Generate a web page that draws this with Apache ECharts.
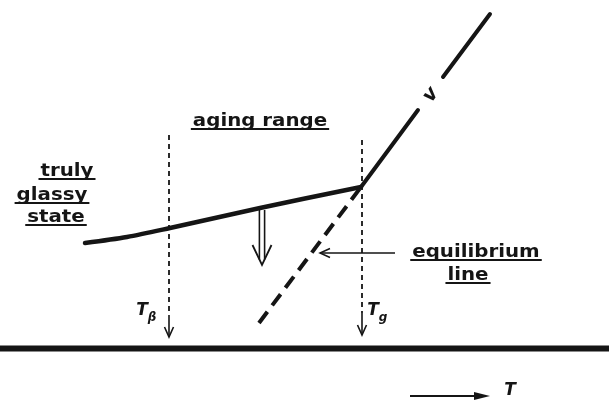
<!DOCTYPE html>
<html>
<head>
<meta charset="utf-8">
<script src="https://cdn.jsdelivr.net/npm/echarts@6/dist/echarts.min.js"></script>
<style>
  html, body { margin: 0; background: #fff; }
  #chart { width: 609px; height: 403px; }
</style>
</head>
<body>
<div id="chart"></div>
<script>
// v(T) schematic: arbitrary units, T to the right, v upwards
const glassyCurve = [[85, 160], [127, 166], [170, 175], [260, 195], [361, 216]];
const liquidLow = [[361, 216], [418, 293]];
const liquidHigh = [[443, 326], [490, 389]];
const equilibriumLine = [[259, 80], [361, 216]];
const floorLine = [[0, 54.5], [609, 54.5]];

const tBeta = 169;
const tGlass = 362;
const tempArrows = [[tBeta, 268, tBeta, 66], [tGlass, 263, tGlass, 68]];
const agingArrow = [[262, 193, 262, 138]];
const pointerArrow = [[395, 150, 320, 150]];
const tAxisArrow = [[410, 7, 490, 7]];

const words = ["aging range", "truly", "glassy", "state", "equilibrium", "line"];
const wordAt = [[260, 282], [67, 232], [52, 208], [56, 186], [476, 151], [468, 128]];
const symbols = [["T", "β"], ["T", "g"], ["T", ""]];
const symbolAt = [[142, 92], [373, 92], [510, 12]];
const curveLabel = ["v"];
const curveLabelAt = [[431, 308]];

const INK = "#151515";
const WORD_FONT = "bold 18px 'DejaVu Sans'";
const WORD_SX = 1.1;

const measureCtx = document.createElement("canvas").getContext("2d");
measureCtx.font = WORD_FONT;

function ends(api) {
  return [
    api.coord([api.value(0), api.value(1)]),
    api.coord([api.value(2), api.value(3)]),
  ];
}

function unit(p1, p2) {
  const dx = p2[0] - p1[0], dy = p2[1] - p1[1];
  const l = Math.hypot(dx, dy);
  return [dx / l, dy / l];
}

function head(p2, u, L, W) {
  const bx = p2[0] - u[0] * L, by = p2[1] - u[1] * L;
  return [[bx - u[1] * W, by + u[0] * W], p2, [bx + u[1] * W, by - u[0] * W]];
}

function seg(a, b, style) {
  return { type: "line", shape: { x1: a[0], y1: a[1], x2: b[0], y2: b[1] }, style: style };
}

function renderTemp(params, api) {
  const [p1, p2] = ends(api);
  const u = unit(p1, p2);
  const s = [p2[0] - u[0] * 22, p2[1] - u[1] * 22];
  return {
    type: "group",
    children: [
      seg(p1, s, { stroke: INK, lineWidth: 1.8, lineDash: [5, 4] }),
      seg(s, p2, { stroke: INK, lineWidth: 1.6 }),
      { type: "polyline", shape: { points: head(p2, u, 10, 4.5) }, style: { stroke: INK, fill: null, lineWidth: 1.6 } },
    ],
  };
}

function renderHollow(params, api) {
  const [p1, p2] = ends(api);
  const u = unit(p1, p2);
  const n = [-u[1], u[0]];
  const o = 2.6, L = 20, W = 9.5;
  const cut = (L * o) / W;
  const e = [p2[0] - u[0] * cut, p2[1] - u[1] * cut];
  const st = { stroke: INK, lineWidth: 1.6 };
  return {
    type: "group",
    children: [
      seg([p1[0] + n[0] * o, p1[1] + n[1] * o], [e[0] + n[0] * o, e[1] + n[1] * o], st),
      seg([p1[0] - n[0] * o, p1[1] - n[1] * o], [e[0] - n[0] * o, e[1] - n[1] * o], st),
      { type: "polyline", shape: { points: head(p2, u, L, W) }, style: { stroke: INK, fill: null, lineWidth: 1.8 } },
    ],
  };
}

function renderPointer(params, api) {
  const [p1, p2] = ends(api);
  const u = unit(p1, p2);
  return {
    type: "group",
    children: [
      seg(p1, p2, { stroke: INK, lineWidth: 1.4 }),
      { type: "polyline", shape: { points: head(p2, u, 10, 4.5) }, style: { stroke: INK, fill: null, lineWidth: 1.5 } },
    ],
  };
}

function renderTAxis(params, api) {
  const [p1, p2] = ends(api);
  const u = unit(p1, p2);
  const e = [p2[0] - u[0] * 8, p2[1] - u[1] * 8];
  return {
    type: "group",
    children: [
      seg(p1, e, { stroke: INK, lineWidth: 2 }),
      { type: "polygon", shape: { points: head(p2, u, 16, 4) }, style: { fill: INK } },
    ],
  };
}

function renderWord(params, api) {
  const p = api.coord([api.value(0), api.value(1)]);
  const text = words[params.dataIndex];
  const half = (measureCtx.measureText(text).width * WORD_SX) / 2;
  return {
    type: "group",
    children: [
      {
        type: "text", x: p[0], y: p[1], scaleX: WORD_SX,
        style: { text: text, font: WORD_FONT, fill: INK, align: "center", verticalAlign: "middle" },
      },
      seg([p[0] - half - 2, p[1] + 8], [p[0] + half + 2, p[1] + 8], { stroke: INK, lineWidth: 2 }),
    ],
  };
}

function renderSymbol(params, api) {
  const p = api.coord([api.value(0), api.value(1)]);
  const [main, sub] = symbols[params.dataIndex];
  return {
    type: "group",
    children: [
      {
        type: "text", x: p[0], y: p[1],
        style: { text: main, font: "italic bold 17px 'DejaVu Sans'", fill: INK, align: "center", verticalAlign: "middle" },
      },
      {
        type: "text", x: p[0] + 10, y: p[1] + 7,
        style: { text: sub, font: "italic bold 12px 'DejaVu Sans'", fill: INK, align: "center", verticalAlign: "middle" },
      },
    ],
  };
}

function renderCurveLabel(params, api) {
  const p = api.coord([api.value(0), api.value(1)]);
  return {
    type: "text", x: p[0], y: p[1], rotation: Math.atan2(173, 129),
    style: { text: curveLabel[params.dataIndex], font: "italic bold 20px 'DejaVu Sans'", fill: INK, align: "center", verticalAlign: "middle" },
  };
}

const chart = echarts.init(document.getElementById("chart"));

const lineBase = { type: "line", symbol: "none", silent: true, z: 3 };

const option = {
  animation: false,
  backgroundColor: "#fff",
  grid: { left: 0, right: 0, top: 0, bottom: 0 },
  xAxis: { type: "value", min: 0, max: 609, show: false },
  yAxis: { type: "value", min: 0, max: 403, show: false },
  series: [
    { ...lineBase, name: "glassy", data: glassyCurve, smooth: 0.3, lineStyle: { color: INK, width: 4.5, cap: "round" } },
    { ...lineBase, name: "liquid", data: liquidLow, lineStyle: { color: INK, width: 4, cap: "round" } },
    { ...lineBase, name: "liquid2", data: liquidHigh, lineStyle: { color: INK, width: 4, cap: "round" } },
    { ...lineBase, name: "equilibrium", data: equilibriumLine, lineStyle: { color: INK, width: 4, type: [14, 8] } },
    { ...lineBase, name: "floor", data: floorLine, lineStyle: { color: INK, width: 6 } },
    { type: "custom", silent: true, data: tempArrows, renderItem: renderTemp, encode: { x: [0, 2], y: [1, 3] } },
    { type: "custom", silent: true, data: agingArrow, renderItem: renderHollow, encode: { x: [0, 2], y: [1, 3] } },
    { type: "custom", silent: true, data: pointerArrow, renderItem: renderPointer, encode: { x: [0, 2], y: [1, 3] } },
    { type: "custom", silent: true, data: tAxisArrow, renderItem: renderTAxis, encode: { x: [0, 2], y: [1, 3] } },
    { type: "custom", silent: true, data: wordAt, renderItem: renderWord },
    { type: "custom", silent: true, data: symbolAt, renderItem: renderSymbol },
    { type: "custom", silent: true, data: curveLabelAt, renderItem: renderCurveLabel },
  ],
};

chart.setOption(option);
</script>
</body>
</html>
